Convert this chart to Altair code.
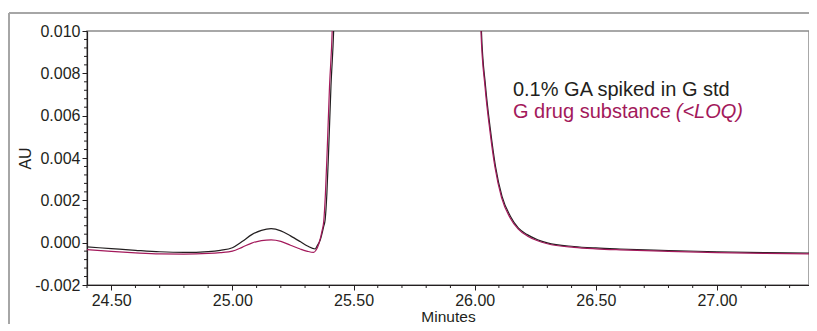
import altair as alt
import pandas as pd

# ---- data (minutes, AU) ----
spiked_min = [24.40, 24.50, 24.60, 24.70, 24.80, 24.90, 24.95, 25.00, 25.04, 25.08,
              25.12, 25.16, 25.20, 25.24, 25.28, 25.31, 25.342, 25.349, 25.363, 25.377,
              25.383, 25.390, 25.397, 25.407, 25.418, 25.45, 25.72, 26.00, 26.028, 26.045,
              26.065, 26.086, 26.113, 26.148, 26.18, 26.217, 26.26, 26.30, 26.41, 26.50,
              26.60, 26.80, 27.00, 27.20, 27.40]
spiked_au = [-0.00020, -0.00028, -0.00036, -0.00043, -0.00046, -0.00042, -0.00036, -0.00024, 0.00005, 0.00038,
             0.00058, 0.00066, 0.00056, 0.00032, 0.00005, -0.00016, -0.00030, -0.00017, 0.00014, 0.00077,
             0.00109, 0.00230, 0.00425, 0.00740, 0.01000, 0.03000, 0.60000, 0.03000, 0.01000, 0.00739,
             0.00534, 0.00361, 0.00219, 0.00124, 0.00070, 0.00038, 0.00014, -0.00001, -0.00018, -0.00025,
             -0.00030, -0.00037, -0.00043, -0.00047, -0.00049]

drug_min = [24.40, 24.50, 24.60, 24.70, 24.80, 24.90, 24.95, 25.00, 25.04, 25.08,
            25.12, 25.16, 25.20, 25.24, 25.28, 25.31, 25.335, 25.345, 25.357, 25.371,
            25.377, 25.384, 25.391, 25.401, 25.412, 25.44, 25.72, 26.00, 26.026, 26.043,
            26.063, 26.084, 26.111, 26.146, 26.18, 26.217, 26.26, 26.30, 26.41, 26.50,
            26.60, 26.80, 27.00, 27.20, 27.40]
drug_au = [-0.00033, -0.00041, -0.00048, -0.00053, -0.00054, -0.00051, -0.00047, -0.00040, -0.00022, -0.00002,
           0.00010, 0.00013, 0.00006, -0.00012, -0.00030, -0.00041, -0.00046, -0.00036, -0.00005, 0.00060,
           0.00100, 0.00230, 0.00425, 0.00740, 0.01000, 0.03000, 0.60000, 0.03000, 0.01000, 0.00735,
           0.00528, 0.00355, 0.00213, 0.00118, 0.00064, 0.00032, 0.00009, -0.00005, -0.00022, -0.00029,
           -0.00034, -0.00041, -0.00047, -0.00051, -0.00053]

# axis ticks
x_major = [24.5, 25.0, 25.5, 26.0, 26.5, 27.0]
x_minor = [24.4, 24.6, 24.7, 24.8, 24.9, 25.1, 25.2, 25.3, 25.4, 25.6, 25.7, 25.8, 25.9,
           26.1, 26.2, 26.3, 26.4, 26.6, 26.7, 26.8, 26.9, 27.1, 27.2, 27.3]
y_major = [-0.002, 0.0, 0.002, 0.004, 0.006, 0.008, 0.010]
y_minor = [-0.0016, -0.0012, -0.0008, -0.0004, 0.0004, 0.0008, 0.0012, 0.0016,
           0.0024, 0.0028, 0.0032, 0.0036, 0.0044, 0.0048, 0.0052, 0.0056,
           0.0064, 0.0068, 0.0072, 0.0076, 0.0084, 0.0088, 0.0092, 0.0096]

# annotations
anno_text = ["0.1% GA spiked in G std", "G drug substance", "(<LOQ)"]
anno_x = [26.158, 26.158, 26.830]
anno_y = [0.00693, 0.00589, 0.00589]

BLACK = "#231f20"
MAGENTA = "#a3195b"
FONT = "Liberation Sans"
X_DOMAIN = [24.4, 27.38]
Y_DOMAIN = [-0.002, 0.010]

spiked = pd.DataFrame({"minutes": spiked_min, "au": spiked_au})
drug = pd.DataFrame({"minutes": drug_min, "au": drug_au})
anno = pd.DataFrame({"minutes": anno_x, "au": anno_y, "text": anno_text})
xminor_df = pd.DataFrame({"minutes": x_minor})
yminor_df = pd.DataFrame({"au": y_minor})

x_enc = alt.X(
    "minutes:Q",
    scale=alt.Scale(domain=X_DOMAIN, nice=False, zero=False),
    axis=alt.Axis(
        values=x_major, format=".2f", tickSize=5,
        labelOverlap=False, labelFlush=False, labelPadding=2,
        title="Minutes", titleFontSize=15.5, titleFontWeight="normal",
        titleY=36, titleBaseline="alphabetic",
    ),
)
y_enc = alt.Y(
    "au:Q",
    scale=alt.Scale(domain=Y_DOMAIN, nice=False, zero=False),
    axis=alt.Axis(
        values=y_major,
        labelExpr="replace(format(datum.value, '.3f'), '\u2212', '-')",
        tickSize=5,
        labelOverlap=False, labelFlush=False, labelPadding=2,
        title="AU", titleFontSize=16, titleFontWeight="normal",
        titleX=-57, titleBaseline="alphabetic",
    ),
)

line_spiked = alt.Chart(spiked).mark_line(
    color=BLACK, strokeWidth=1.2, clip=True, interpolate="monotone"
).encode(x=x_enc, y=y_enc)

line_drug = alt.Chart(drug).mark_line(
    color=MAGENTA, strokeWidth=1.2, clip=True, interpolate="monotone"
).encode(x="minutes:Q", y="au:Q")

xminor_ticks = alt.Chart(xminor_df).mark_rule(color=BLACK, strokeWidth=1).encode(
    x="minutes:Q", y=alt.value(254), y2=alt.value(257)
)
yminor_ticks = alt.Chart(yminor_df).mark_rule(color=BLACK, strokeWidth=1).encode(
    y="au:Q", x=alt.value(-3), x2=alt.value(0)
)

text1 = alt.Chart(anno.iloc[[0]]).mark_text(
    align="left", baseline="alphabetic", font=FONT, fontSize=20, color=BLACK
).encode(x="minutes:Q", y="au:Q", text="text:N")
text2 = alt.Chart(anno.iloc[[1]]).mark_text(
    align="left", baseline="alphabetic", font=FONT, fontSize=20, color=MAGENTA
).encode(x="minutes:Q", y="au:Q", text="text:N")
text3 = alt.Chart(anno.iloc[[2]]).mark_text(
    align="left", baseline="alphabetic", font=FONT, fontSize=20, color=MAGENTA,
    fontStyle="italic"
).encode(x="minutes:Q", y="au:Q", text="text:N")

frame_left = alt.Chart(spiked).mark_rule(color="#a6a6a6", strokeWidth=1.5).encode(
    x=alt.value(-78), y=alt.value(-18), y2=alt.value(300)
)
frame_top = alt.Chart(spiked).mark_rule(color="#a6a6a6", strokeWidth=1.5).encode(
    x=alt.value(-78), x2=alt.value(722), y=alt.value(-18)
)

chart = alt.layer(
    frame_left, frame_top, line_spiked, line_drug, xminor_ticks, yminor_ticks,
    text1, text2, text3
).properties(
    width=722, height=254,
    autosize=alt.AutoSizeParams(type="none"),
    padding={"left": 79, "top": 23, "right": 0, "bottom": 39},
    background="white",
).configure_view(
    stroke="#8c8c8c", strokeWidth=1.5
).configure_axis(
    grid=False,
    domainColor=BLACK, domainWidth=1.2,
    tickColor=BLACK, tickWidth=1,
    labelColor=BLACK, labelFont=FONT, labelFontSize=16,
    titleColor=BLACK, titleFont=FONT,
)

chart.save("out.html", embed_options={"renderer": "svg", "actions": False})
